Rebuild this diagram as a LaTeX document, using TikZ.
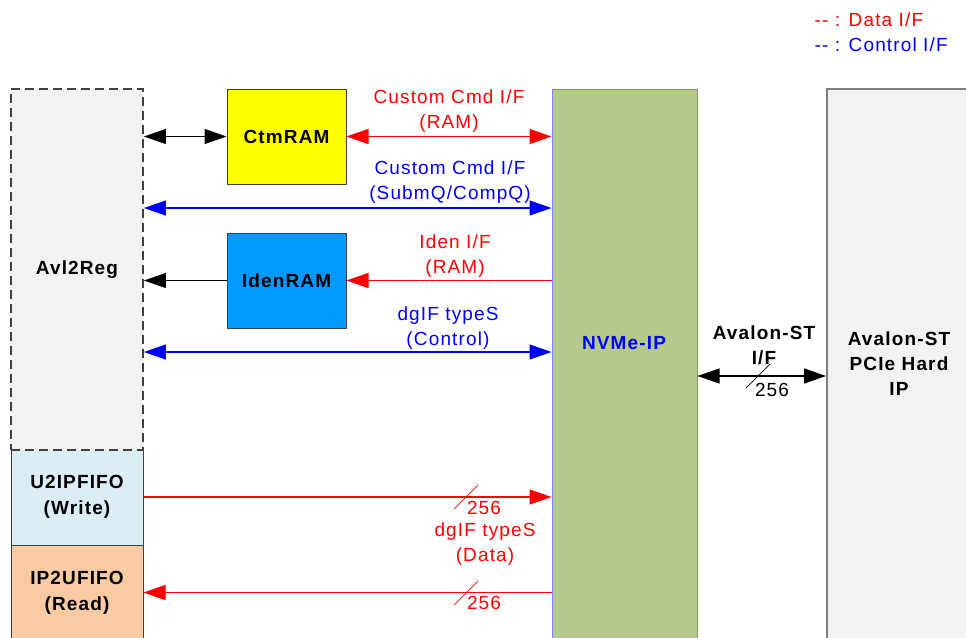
\documentclass[tikz,border=0pt]{standalone}
\usepackage{fontspec}
\setmainfont{Liberation Sans}[LetterSpace=6]
\usetikzlibrary{arrows.meta, positioning, calc}
\definecolor{cred}{HTML}{FF0000}
\definecolor{cblue}{HTML}{0000FF}
\definecolor{cgrey}{HTML}{404040}
\definecolor{cline}{HTML}{7F7F7F}
\definecolor{cpale}{HTML}{F2F2F2}
\definecolor{cfifow}{HTML}{DAEEF3}
\definecolor{cfifor}{HTML}{F9CBA3}
\definecolor{cyel}{HTML}{FFFF00}
\definecolor{cazure}{HTML}{0099FF}
\definecolor{cgreen}{HTML}{B4C98A}
\definecolor{cedge}{HTML}{8080FF}
\tikzset{
  every picture/.style={font=\fontsize{19}{25}\selectfont, line width=1.3pt},
  >={Triangle[length=22pt, width=15pt]},
  block/.style={draw=cgrey, line width=1pt, fill=#1, align=center, inner sep=0pt, font=\fontsize{19}{26}\selectfont\bfseries},
  ram/.style={block=#1, minimum width=119pt, minimum height=95pt},
  fifo/.style={block=#1, minimum width=132pt, minimum height=96pt},
  tag/.style={text=#1, align=center, inner sep=0pt},
  tag/.default=black,
  bus/.style={draw=#1, line width=0.7pt},
}
\begin{document}
\begin{tikzpicture}[x=1pt, y=-1pt]
  \clip (0,0) rectangle (966,637);
  \node[fifo=cfifow] (u2ip) at (77,497) {U2IPFIFO\\(Write)};
  \node[fifo=cfifor, minimum height=95pt] (ip2u) at (77,592.5) {IP2UFIFO\\(Read)};
  \node[block=cpale, dash pattern=on 9pt off 5pt, line width=1.8pt, minimum width=132pt, minimum height=361pt] (avl) at (77,269.5) {Avl2Reg};
  \node[ram=cyel] (ctm) at (286.5,136.5) {CtmRAM};
  \node[ram=cazure] (iden) at (286.5,280.5) {IdenRAM};
  \node[block=cgreen, draw=cedge, minimum width=145pt, minimum height=561pt] (nvme) at (624.5,369.5) {};
  \node[tag=cblue, font=\fontsize{19}{25}\selectfont\bfseries] (nvmelbl) at (624,343) {NVMe-IP};
  \node[block=cpale, draw=cline, line width=2pt, minimum width=153pt, minimum height=561pt] (pcie) at (903.5,369.5) {};
  \node[tag, font=\fontsize{19}{25}\selectfont\bfseries] (pcielbl) at (899,364) {Avalon-ST\\PCIe Hard\\IP};
  \coordinate (lvsq) at (0,208);
  \coordinate (lvctl) at (0,352);
  \coordinate (lvst) at (0,376);
  \draw[<->] (avl.east |- ctm.west) -- (ctm.west);
  \draw[<->, cred] (ctm.east) -- (nvme.west |- ctm.east);
  \draw[<->, cblue] (avl.east |- lvsq) -- (nvme.west |- lvsq);
  \draw[->] (iden.west) -- (avl.east |- iden.west);
  \draw[->, cred] (nvme.west |- iden.east) -- (iden.east);
  \draw[<->, cblue] (avl.east |- lvctl) -- (nvme.west |- lvctl);
  \draw[->, cred] (u2ip.east) -- (nvme.west |- u2ip.east);
  \draw[->, cred] (nvme.west |- ip2u.east) -- (ip2u.east);
  \draw[<->] (nvme.east |- lvst) -- (pcie.west |- lvst);
  \node[tag=cred] (ccram) at (449,111) {Custom Cmd I/F\\(RAM)};
  \node[tag=cblue] (ccsq) at (450,182.5) {Custom Cmd I/F\\(SubmQ/CompQ)};
  \node[tag=cred] (idenif) at (455,256.5) {Iden I/F\\(RAM)};
  \node[tag=cblue] (dgctl) at (448,328) {dgIF typeS\\(Control)};
  \node[tag=cred] (dgdata) at (485,544.5) {dgIF typeS\\(Data)};
  \node[tag, font=\fontsize{19}{25}\selectfont\bfseries] (stif) at (764,345.5) {Avalon-ST\\I/F};
  \draw[bus=cred] (466,497) ++(-12,12) -- ++(24,-24);
  \draw[bus=cred] (466,593) ++(-12,12) -- ++(24,-24);
  \draw[bus=black] (758,376) ++(-12,12) -- ++(24,-24);
  \node[tag=cred] (wd1) at (484,508) {256};
  \node[tag=cred] (wd2) at (484,603) {256};
  \node[tag] (wd3) at (772,390) {256};
  \node[tag=cred, anchor=west] (lgdata) at (814,20) {{-}{-} : Data I/F};
  \node[tag=cblue, anchor=west] (lgctl) at (814,45) {{-}{-} : Control I/F};
\end{tikzpicture}
\end{document}
